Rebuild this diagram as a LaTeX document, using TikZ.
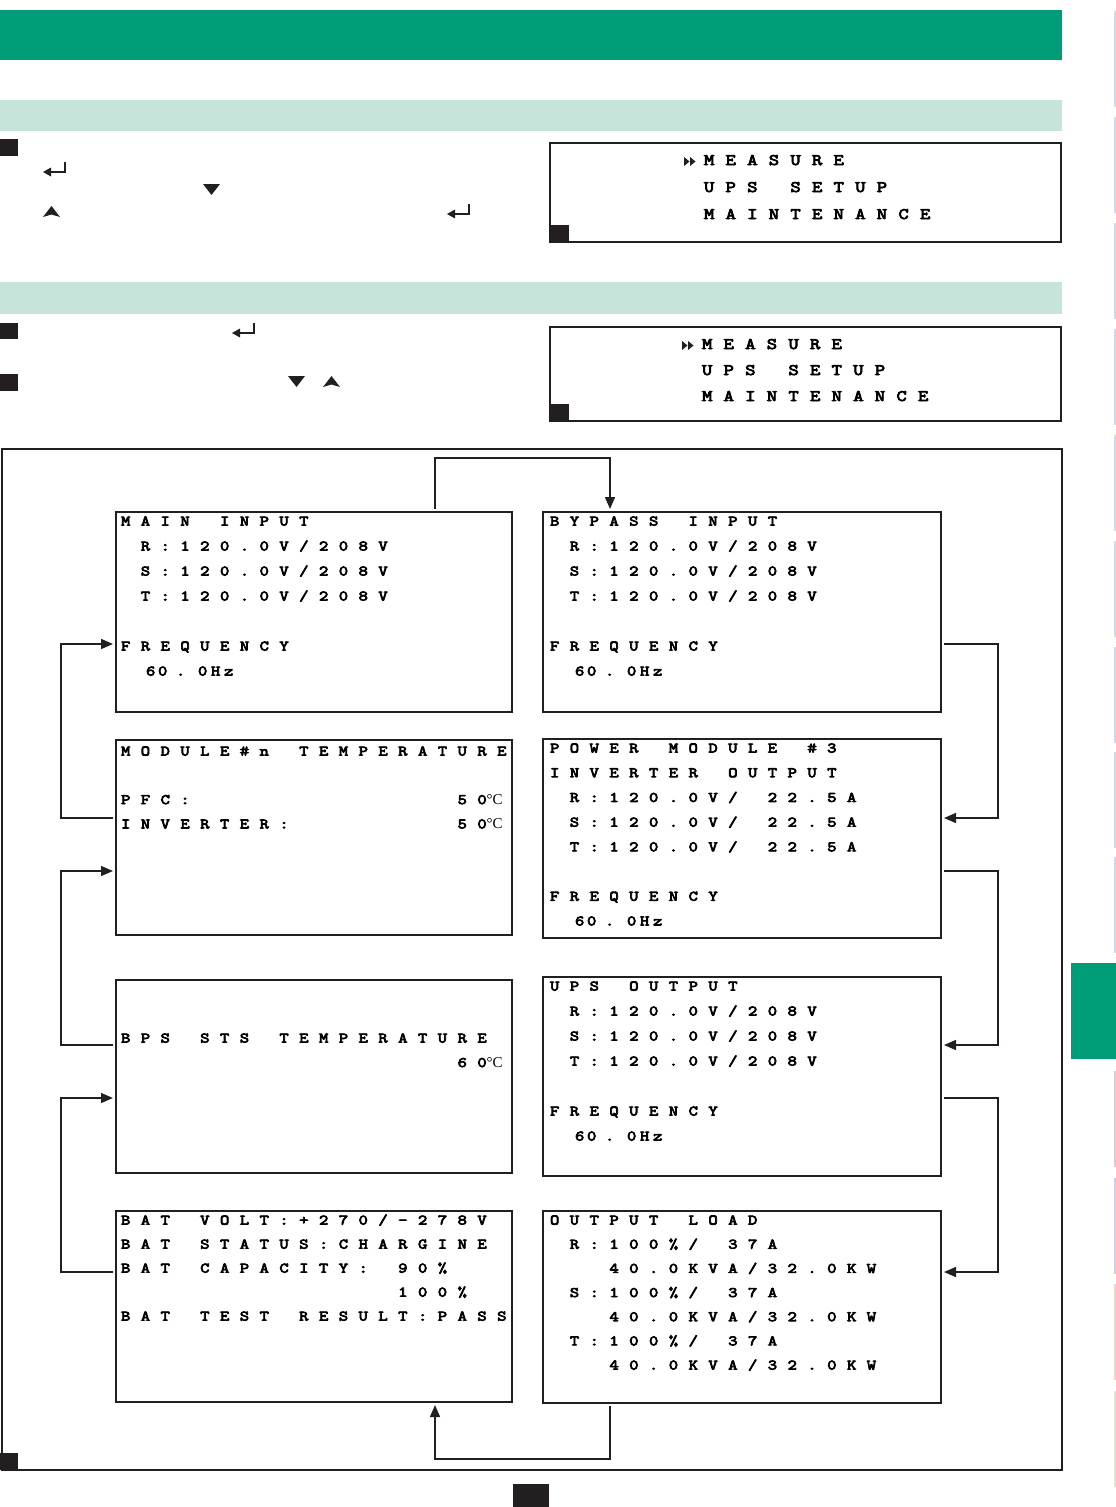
\documentclass[tikz,border=0pt]{standalone}
\usepackage{fontspec}
\usetikzlibrary{arrows.meta}
\newfontfamily\lcdfont{Latin Modern Mono}[FakeStretch=1.25,FakeBold=5]
\newfontfamily\serfont{Liberation Serif}
\definecolor{hdrgreen}{HTML}{009B77}
\definecolor{mint}{HTML}{C6E4D9}
\definecolor{ink}{HTML}{231F20}
\definecolor{edgegray}{HTML}{D3D9E2}
\definecolor{edgepink}{HTML}{E4C9D5}
\definecolor{edgepurple}{HTML}{D5CCE2}
\definecolor{edgepeach}{HTML}{EDD5CB}
\definecolor{edgegreen}{HTML}{DFE7D1}
\newdimen\lcdpitch
\def\lcdchars#1{\ifx#1\relax\else\makebox[\lcdpitch][l]{#1}\expandafter\lcdchars\fi}
\def\lcdstrut{\vrule height 10pt depth 3pt width 0pt}
\newcommand\lcdr[1]{\hbox{\lcdstrut\lcdchars#1\relax}}
\newcommand\zdeg{0{\serfont\mdseries\fontsize{15}{15}\selectfont °C}}
\newcommand\hzrow{\hbox{\lcdstrut\hspace*{25pt}\makebox[12pt][l]{6}\makebox[18pt][l]{0}\makebox[22pt][l]{.}\makebox[13pt][l]{0}\makebox[13pt][l]{H}z}}
\newcommand\lcdblock[4][14.5]{\vbox{\lcdfont\mdseries\fontsize{#1}{#1}\selectfont\lcdpitch=#2\relax\baselineskip=#3\relax\lineskiplimit=-\maxdimen\lineskip=0pt #4}}
\begin{document}
\begin{tikzpicture}[x=1pt,y=-1pt,
  lcdbox/.style={draw=ink, line width=1.8pt, outer sep=3pt, inner sep=0pt, rectangle},
  menubox/.style={draw=ink, line width=2pt, inner sep=0pt, rectangle},
  lcdtxt/.style={anchor=north west, inner sep=0pt, outer sep=0pt},
  conn/.style={draw=ink, line width=1.5pt, -{Triangle[length=12pt,width=10pt]}},
  entericon/.pic={\draw[ink, line width=2pt] (22,0) -- (22,10) -- (6,10);
                  \fill[ink] (0,10) -- (8,5.5) -- (8,14.5) -- cycle;},
  dntri/.pic={\fill[ink] (0,0) -- (17,0) -- (8.5,11) -- cycle;},
  uptri/.pic={\fill[ink] (0,11) -- (8.5,0) -- (17,11) -- (8.5,8.5) -- cycle;}]
\useasboundingbox (0,0) rectangle (1116,1507);
% header bands
\fill[hdrgreen] (0,10) rectangle (1062,60);
\fill[mint] (0,100) rectangle (1062,131);
\fill[mint] (0,282) rectangle (1062,314);
% bullet squares
\fill[ink] (0,139) rectangle (18,156);
\fill[ink] (0,323) rectangle (18,339);
\fill[ink] (0,374) rectangle (18,391);
% key icons
\pic at (43,162) {entericon};
\pic at (203,184) {dntri};
\pic at (43,206) {uptri};
\pic at (447,204) {entericon};
\pic at (232,323) {entericon};
\pic at (288,376) {dntri};
\pic at (323,376) {uptri};
% menu displays
\node[menubox, minimum width=511pt, minimum height=99pt] (M1) at (805.5,192.5) {};
\fill[ink] (550,225) rectangle (569,242);
\fill[ink] (684,157) -- (689.5,161.5) -- (684,166) -- cycle;
\fill[ink] (690,157) -- (695.5,161.5) -- (690,166) -- cycle;
\node[lcdtxt] (M1t) at (704,155) {\lcdblock[16]{21.6pt}{27pt}{\lcdr{MEASURE}\lcdr{UPS~SETUP}\lcdr{MAINTENANCE}}};
\node[menubox, minimum width=511pt, minimum height=94pt] (M2) at (805.5,374) {};
\fill[ink] (550,404) rectangle (569,421);
\fill[ink] (682,341) -- (687.5,345.5) -- (682,350) -- cycle;
\fill[ink] (688,341) -- (693.5,345.5) -- (688,350) -- cycle;
\node[lcdtxt] (M2t) at (702,339) {\lcdblock[16]{21.6pt}{26pt}{\lcdr{MEASURE}\lcdr{UPS~SETUP}\lcdr{MAINTENANCE}}};
% frame
\node[draw=ink, line width=2pt, minimum width=1060pt, minimum height=1021pt, inner sep=0pt] (frame) at (531.5,959.5) {};
\fill[ink] (0,1453) rectangle (18,1470);
\fill[ink] (513,1484) rectangle (549,1507);
% right edge
\fill[hdrgreen] (1071,963) rectangle (1116,1059);
\foreach \yy/\cc in {11/edgegray,117/edgegray,223/edgegray,329/edgegray,435/edgegray,541/edgegray,647/edgegray,752/edgegray,857/edgegray,1071/edgepink,1178/edgepurple,1284/edgepeach,1391/edgegreen}
  \fill[\cc] (1114,\yy) rectangle (1116,\yy+96);
% LCD boxes
\node[lcdbox, minimum width=396pt, minimum height=200pt] (L1) at (314,612) {};
\node[lcdbox, minimum width=398pt, minimum height=200pt] (R1) at (742,612) {};
\node[lcdbox, minimum width=396pt, minimum height=195pt] (L2) at (314,837.5) {};
\node[lcdbox, minimum width=398pt, minimum height=199pt] (R2) at (742,838.5) {};
\node[lcdbox, minimum width=396pt, minimum height=193pt] (L3) at (314,1076.5) {};
\node[lcdbox, minimum width=398pt, minimum height=199pt] (R3) at (742,1076.5) {};
\node[lcdbox, minimum width=396pt, minimum height=191pt] (L4) at (314,1306.5) {};
\node[lcdbox, minimum width=398pt, minimum height=192pt] (R4) at (742,1307) {};
% LCD texts
\node[lcdtxt] (L1t) at (121,515.5) {\lcdblock{19.8pt}{25pt}{%
  \lcdr{MAIN~INPUT}\lcdr{~R:120.0V/208V}\lcdr{~S:120.0V/208V}\lcdr{~T:120.0V/208V}\lcdr{}\lcdr{FREQUENCY}\hzrow}};
\node[lcdtxt] (R1t) at (550,515.5) {\lcdblock{19.8pt}{25pt}{%
  \lcdr{BYPASS~INPUT}\lcdr{~R:120.0V/208V}\lcdr{~S:120.0V/208V}\lcdr{~T:120.0V/208V}\lcdr{}\lcdr{FREQUENCY}\hzrow}};
\node[lcdtxt] (L2t) at (121,745.5) {\lcdblock{19.8pt}{24.3pt}{%
  \lcdr{MODULE\#n~TEMPERATURE}\lcdr{}\lcdr{PFC:~~~~~~~~~~~~~5\zdeg}\lcdr{INVERTER:~~~~~~~~5\zdeg}}};
\node[lcdtxt] (R2t) at (550,742.5) {\lcdblock{19.8pt}{24.7pt}{%
  \lcdr{POWER~MODULE~\#3}\lcdr{INVERTER~OUTPUT}\lcdr{~R:120.0V/~22.5A}\lcdr{~S:120.0V/~22.5A}\lcdr{~T:120.0V/~22.5A}\lcdr{}\lcdr{FREQUENCY}\hzrow}};
\node[lcdtxt] (L3t) at (121,1032.5) {\lcdblock{19.8pt}{24.5pt}{%
  \lcdr{BPS~STS~TEMPERATURE}\lcdr{~~~~~~~~~~~~~~~~~6\zdeg}}};
\node[lcdtxt] (R3t) at (550,980.5) {\lcdblock{19.8pt}{25pt}{%
  \lcdr{UPS~OUTPUT}\lcdr{~R:120.0V/208V}\lcdr{~S:120.0V/208V}\lcdr{~T:120.0V/208V}\lcdr{}\lcdr{FREQUENCY}\hzrow}};
\node[lcdtxt] (L4t) at (121,1214.5) {\lcdblock{19.8pt}{24pt}{%
  \lcdr{BAT~VOLT:+270/-278V}\lcdr{BAT~STATUS:CHARGINE}\lcdr{BAT~CAPACITY:~90\%}\lcdr{~~~~~~~~~~~~~~100\%}\lcdr{BAT~TEST~RESULT:PASS}}};
\node[lcdtxt] (R4t) at (550,1214.5) {\lcdblock{19.8pt}{24.17pt}{%
  \lcdr{OUTPUT~LOAD}\lcdr{~R:100\%/~37A}\lcdr{~~~40.0KVA/32.0KW}\lcdr{~S:100\%/~37A}\lcdr{~~~40.0KVA/32.0KW}\lcdr{~T:100\%/~37A}\lcdr{~~~40.0KVA/32.0KW}}};
% connectors
\draw[conn] (L1.north -| 435,0) -- ++(0,-51) -| (R1.north -| 610,0);
\draw[conn] (R1.east |- 0,644) -- ++(54,0) |- (R2.east |- 0,818);
\draw[conn] (R2.east |- 0,871) -- ++(54,0) |- (R3.east |- 0,1045);
\draw[conn] (R3.east |- 0,1098) -- ++(54,0) |- (R4.east |- 0,1272);
\draw[conn] (R4.south -| 610,0) -- ++(0,53) -| (L4.south -| 435,0);
\draw[conn] (L4.west |- 0,1272) -- ++(-52,0) |- (L3.west |- 0,1098);
\draw[conn] (L3.west |- 0,1045) -- ++(-52,0) |- (L2.west |- 0,871);
\draw[conn] (L2.west |- 0,818) -- ++(-52,0) |- (L1.west |- 0,644);
\end{tikzpicture}
\end{document}
